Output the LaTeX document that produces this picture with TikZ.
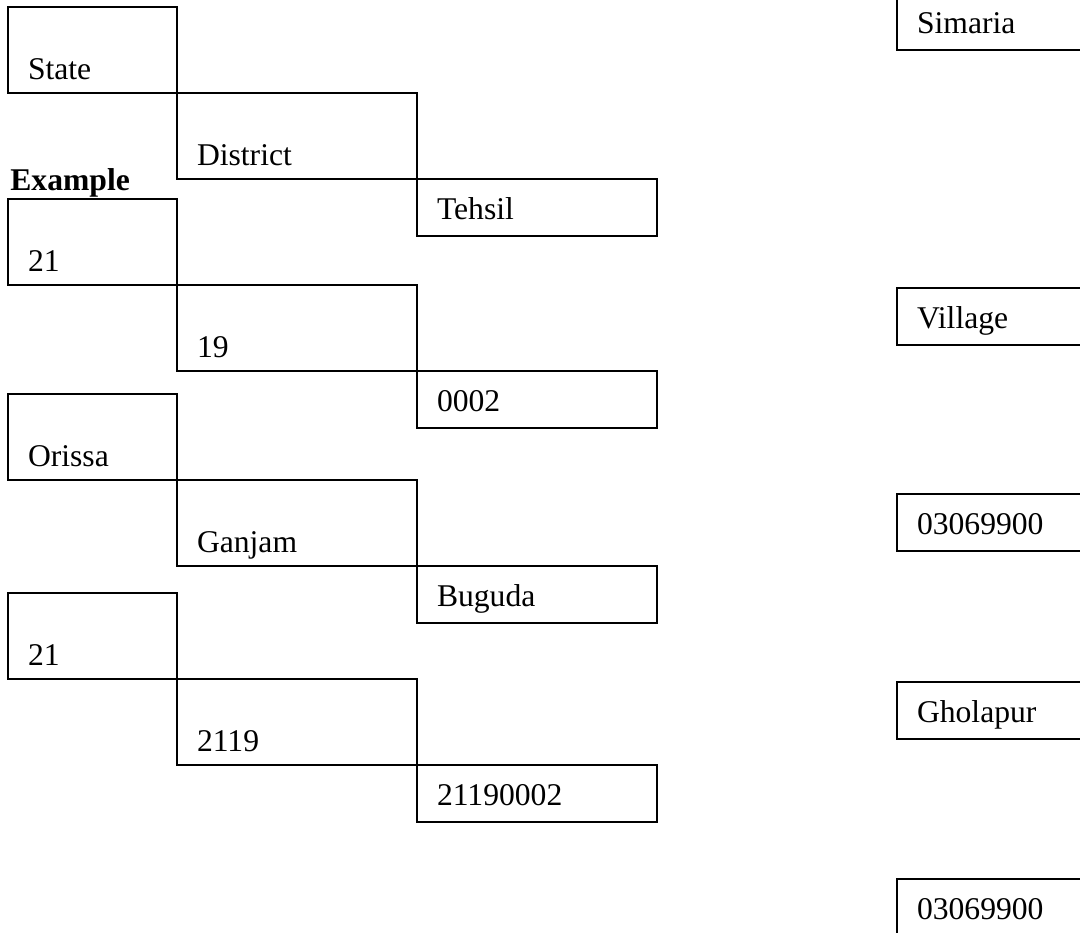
\documentclass[tikz,border=0pt]{standalone}
\usepackage{fontspec}
\setmainfont{Liberation Serif}
\begin{document}
\begin{tikzpicture}[
	tallbox/.style={draw, rectangle, line width=1pt, anchor=north west, inner xsep=0.4cm, 
	inner ysep=0pt, outer sep=0pt, text height=1.44cm, text depth=0.28cm, align=left},
	flatbox/.style={draw, rectangle, line width=1pt, anchor=north west, inner xsep=0.4cm, 
	inner ysep=0pt, outer sep=0pt, text height=0.8cm, text depth=0.34cm, align=left},
	leftcol/.style={text width=2.58cm},
	widecol/.style={text width=4cm},
	font=\fontsize{18}{22}\selectfont]
			
			\clip (0,0) rectangle (21.6,-18.64);
			
			%Header of the scheme
			\node (state) at (0.16,-0.14) [tallbox, leftcol]{State};
			\node (district) at (state.south east) [tallbox, widecol]{District};
			\node (tehsil) at (district.south east) [flatbox, widecol]{Tehsil};
			
			%Example
			\node (example) at (0.2,-3.8) [anchor=base west, inner sep=0pt, font=\fontsize{18}{22}\selectfont\bfseries]{Example};
			
			%Codes
			\node (stateCode) at (0.16,-3.98) [tallbox, leftcol]{21};
			\node (districtCode) at (stateCode.south east) [tallbox, widecol]{19};
			\node (tehsilCode) at (districtCode.south east) [flatbox, widecol]{0002};
			
			%Names
			\node (stateName) at (0.16,-7.88) [tallbox, leftcol]{Orissa};
			\node (districtName) at (stateName.south east) [tallbox, widecol]{Ganjam};
			\node (tehsilName) at (districtName.south east) [flatbox, widecol]{Buguda};
			
			%Full codes
			\node (stateFull) at (0.16,-11.86) [tallbox, leftcol]{21};
			\node (districtFull) at (stateFull.south east) [tallbox, widecol]{2119};
			\node (tehsilFull) at (districtFull.south east) [flatbox, widecol]{21190002};
			
			%Villages
			\node (simaria) at (17.94,0.14) [flatbox, widecol]{Simaria};
			\node (village) at (17.94,-5.76) [flatbox, widecol]{Village};
			\node (villageCode) at (17.94,-9.88) [flatbox, widecol]{03069900};
			\node (gholapur) at (17.94,-13.64) [flatbox, widecol]{Gholapur};
			\node (gholapurCode) at (17.94,-17.58) [flatbox, widecol]{03069900};
			
\end{tikzpicture}
\end{document}
